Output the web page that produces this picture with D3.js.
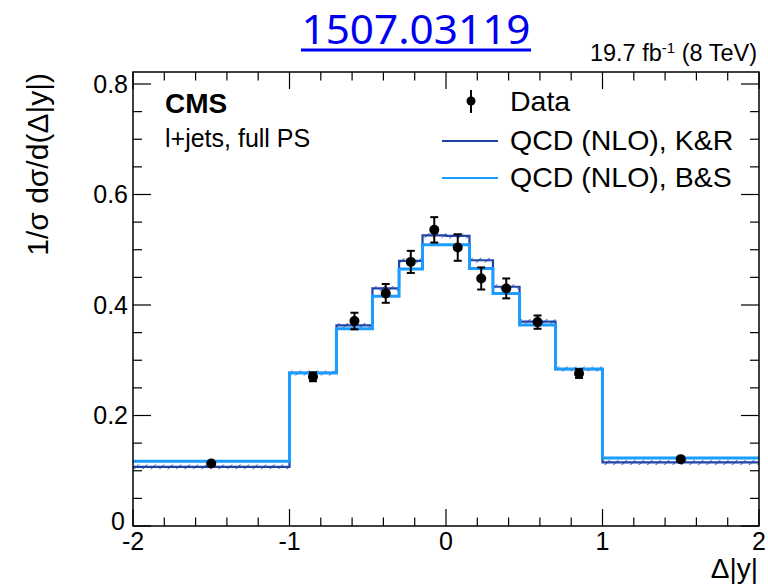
<!DOCTYPE html>
<html>
<head>
<meta charset="utf-8">
<script src="https://cdn.jsdelivr.net/npm/d3@7"></script>
<style>
  html, body { margin: 0; padding: 0; background: #fff; }
  svg { display: block; }
  text { font-family: "Liberation Sans", Arial, Helvetica, sans-serif; fill: #000; }
</style>
</head>
<body>
<script>
// ---------------- data ----------------
const binEdges = [-2, -1, -0.7, -0.47, -0.3, -0.15, 0, 0.15, 0.3, 0.47, 0.7, 1, 2];
const qcdKR    = [0.107, 0.277, 0.363, 0.430, 0.480, 0.526, 0.525, 0.481, 0.433, 0.370, 0.284, 0.115];
const qcdBS    = [0.117, 0.277, 0.357, 0.416, 0.465, 0.509, 0.509, 0.466, 0.421, 0.364, 0.284, 0.123];
const dataX    = [-1.5, -0.85, -0.585, -0.385, -0.225, -0.075, 0.075, 0.225, 0.385, 0.585, 0.85, 1.5];
const dataY    = [0.113, 0.270, 0.371, 0.421, 0.478, 0.536, 0.504, 0.448, 0.430, 0.369, 0.276, 0.121];
const dataErr  = [0.004, 0.008, 0.015, 0.017, 0.020, 0.023, 0.024, 0.020, 0.018, 0.012, 0.008, 0.004];
const krBand   = 0.0045;
const xTicks   = [-2, -1, 0, 1, 2];
const yTicks   = [0, 0.2, 0.4, 0.6, 0.8];
const legendLabels = ["Data", "QCD (NLO), K&R", "QCD (NLO), B&S"];

// ---------------- layout ----------------
const W = 768, H = 587;
const L = 133, R = 759, T = 72, B = 526;
const cDark = "#1f44a6", cLight = "#1b9cff";

const svg = d3.select("body").append("svg").attr("width", W).attr("height", H);

const x = d3.scaleLinear().domain([-2, 2]).range([L, R]);
const y = d3.scaleLinear().domain([0, 0.8217]).range([B, T]);

// hatch pattern for K&R uncertainty band
const defs = svg.append("defs");
const pat = defs.append("pattern").attr("id", "hatch").attr("patternUnits", "userSpaceOnUse")
  .attr("width", 6).attr("height", 6).attr("patternTransform", "rotate(45)");
pat.append("line").attr("x1", 0).attr("y1", 0).attr("x2", 0).attr("y2", 6)
  .attr("stroke", cDark).attr("stroke-width", 1.5);

// title
svg.append("text").attr("x", 416).attr("y", 44).attr("text-anchor", "middle")
  .style("font-family", "'Noto Sans', 'Open Sans', sans-serif").style("font-size", "40px")
  .style("fill", "#0000f0").attr("textLength", 229).attr("lengthAdjust", "spacingAndGlyphs")
  .text("1507.03119");
svg.append("line").attr("x1", 301).attr("x2", 531).attr("y1", 50).attr("y2", 50)
  .attr("stroke", "#0000f0").attr("stroke-width", 3);

// lumi label
const lumi = svg.append("text").attr("x", 757).attr("y", 61).attr("text-anchor", "end")
  .style("font-size", "23.5px");
lumi.append("tspan").text("19.7 fb");
lumi.append("tspan").attr("dy", -8).style("font-size", "15px").text("-1");
lumi.append("tspan").attr("dy", 8).text(" (8 TeV)");

// step paths
const stepPts = vals => vals.map((v, i) => [binEdges[i], v]).concat([[binEdges[binEdges.length - 1], vals[vals.length - 1]]]);
const line = d3.line().x(d => x(d[0])).y(d => y(d[1])).curve(d3.curveStepAfter);
const area = d3.area().x(d => x(d[0])).y0(d => y(d[1] - krBand)).y1(d => y(d[1] + krBand)).curve(d3.curveStepAfter);

const g = svg.append("g");
g.append("path").attr("d", area(stepPts(qcdKR))).attr("fill", "url(#hatch)").attr("stroke", "none");
g.append("path").attr("d", line(stepPts(qcdKR))).attr("fill", "none").attr("stroke", cDark).attr("stroke-width", 2.2);
g.append("path").attr("d", line(stepPts(qcdBS))).attr("fill", "none").attr("stroke", cLight).attr("stroke-width", 3);

// data points
const pts = g.selectAll(".pt").data(dataX.map((v, i) => ({ x: v, y: dataY[i], e: dataErr[i] }))).enter().append("g");
pts.append("line").attr("x1", d => x(d.x)).attr("x2", d => x(d.x))
  .attr("y1", d => y(d.y - d.e)).attr("y2", d => y(d.y + d.e)).attr("stroke", "#000").attr("stroke-width", 2);
pts.filter(d => d.e > 0.006).append("line").attr("x1", d => x(d.x) - 4).attr("x2", d => x(d.x) + 4)
  .attr("y1", d => y(d.y + d.e)).attr("y2", d => y(d.y + d.e)).attr("stroke", "#000").attr("stroke-width", 2);
pts.filter(d => d.e > 0.006).append("line").attr("x1", d => x(d.x) - 4).attr("x2", d => x(d.x) + 4)
  .attr("y1", d => y(d.y - d.e)).attr("y2", d => y(d.y - d.e)).attr("stroke", "#000").attr("stroke-width", 2);
pts.append("circle").attr("cx", d => x(d.x)).attr("cy", d => y(d.y)).attr("r", 5).attr("fill", "#000");

// frame
svg.append("rect").attr("x", L).attr("y", T).attr("width", R - L).attr("height", B - T)
  .attr("fill", "none").attr("stroke", "#000").attr("stroke-width", 1.5);

// ticks (inward, all four sides)
const tk = svg.append("g").attr("stroke", "#000").attr("stroke-width", 1.2);
d3.range(-2, 2.0001, 0.2).forEach(v => {
  const major = Math.abs(v - Math.round(v)) < 1e-6;
  const len = major ? 17 : 8.5;
  tk.append("line").attr("x1", x(v)).attr("x2", x(v)).attr("y1", B).attr("y2", B - len);
  tk.append("line").attr("x1", x(v)).attr("x2", x(v)).attr("y1", T).attr("y2", T + len);
});
d3.range(0, 0.8217, 0.05).forEach(v => {
  const major = Math.abs(v / 0.2 - Math.round(v / 0.2)) < 1e-6;
  const len = major ? 18 : 9;
  tk.append("line").attr("y1", y(v)).attr("y2", y(v)).attr("x1", L).attr("x2", L + len);
  tk.append("line").attr("y1", y(v)).attr("y2", y(v)).attr("x1", R).attr("x2", R - len);
});

// tick labels
svg.selectAll(".xl").data(xTicks).enter().append("text")
  .attr("x", d => x(d)).attr("y", 550).attr("text-anchor", "middle").style("font-size", "25px")
  .text(d => String(d));
svg.selectAll(".yl").data(yTicks).enter().append("text")
  .attr("x", d => d === 0 ? 125 : 128).attr("y", d => d === 0 ? 530 : y(d) + 9).attr("text-anchor", "end").style("font-size", "25px")
  .text(d => d === 0 ? "0" : d3.format(".1f")(d));

// axis titles
svg.append("text").attr("transform", "translate(48,73) rotate(-90)").attr("text-anchor", "end")
  .style("font-size", "30px").text("1/σ dσ/d(Δ|y|)");
svg.append("text").attr("x", 758).attr("y", 578).attr("text-anchor", "end")
  .style("font-size", "28px").text("Δ|y|");

// CMS labels
svg.append("text").attr("x", 165).attr("y", 113).style("font-size", "28px").style("font-weight", "bold").text("CMS");
svg.append("text").attr("x", 165).attr("y", 147).style("font-size", "25px").text("l+jets, full PS");

// legend
const lg = svg.append("g");
lg.append("line").attr("x1", 471).attr("x2", 471).attr("y1", 90).attr("y2", 113).attr("stroke", "#000").attr("stroke-width", 2);
lg.append("circle").attr("cx", 471).attr("cy", 101).attr("r", 4.5).attr("fill", "#000");
lg.append("line").attr("x1", 442).attr("x2", 498).attr("y1", 141).attr("y2", 141).attr("stroke", cDark).attr("stroke-width", 2.2);
lg.append("line").attr("x1", 442).attr("x2", 498).attr("y1", 178).attr("y2", 178).attr("stroke", cLight).attr("stroke-width", 2.2);
lg.selectAll("text").data(legendLabels).enter().append("text")
  .attr("x", 510).attr("y", (d, i) => [111, 150, 187][i]).style("font-size", "28.5px").text(d => d);
</script>
</body>
</html>
